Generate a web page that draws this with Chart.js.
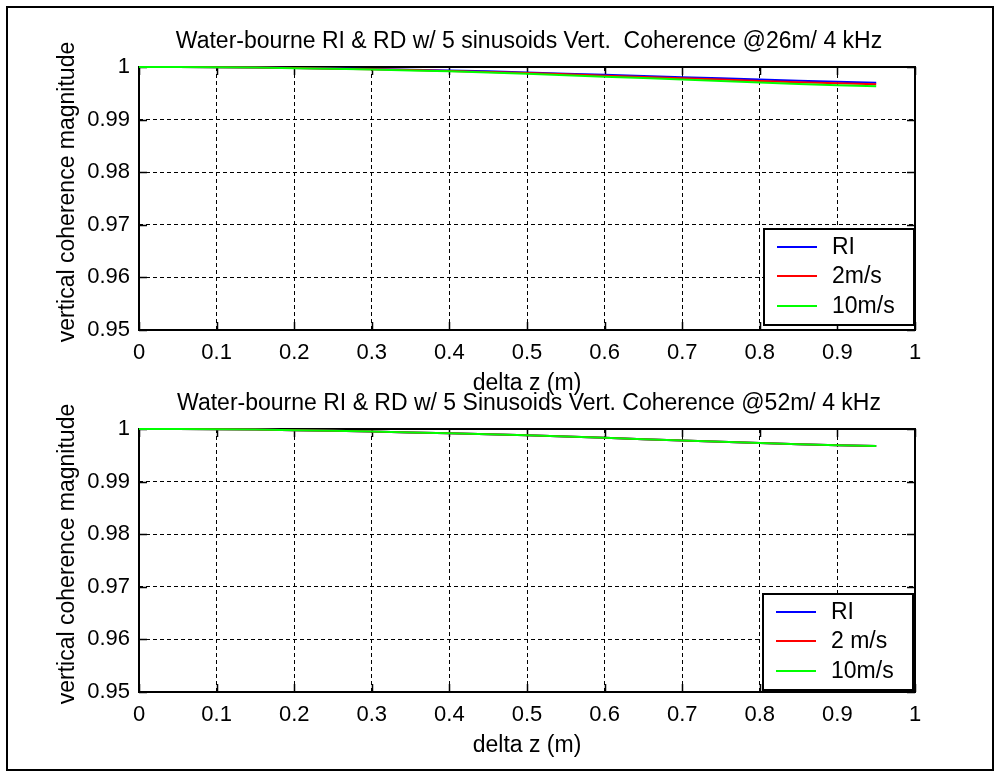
<!DOCTYPE html>
<html><head><meta charset="utf-8">
<script src="https://cdn.jsdelivr.net/npm/chart.js@4/dist/chart.umd.min.js"></script>
<style>
html,body{margin:0;padding:0;background:#fff;width:999px;height:776px;overflow:hidden;}
#frame{position:absolute;left:6px;top:6px;width:984px;height:761px;border:2px solid #000;}
canvas{position:absolute;left:0;}
#c1{top:0;}
#c2{top:362px;}
</style></head><body>
<div id="frame"></div>
<canvas id="c1" width="999" height="400" style="width:999px;height:400px"></canvas>
<canvas id="c2" width="999" height="400" style="width:999px;height:400px"></canvas>
<script>
// ---- data ----
const deltaZ = [0, 0.05, 0.1, 0.15, 0.2, 0.25, 0.3, 0.35, 0.4, 0.45, 0.5, 0.55, 0.6, 0.65, 0.7, 0.75, 0.8, 0.85, 0.9, 0.95];

const top_RI   = [1, 1, 0.99997, 0.99991, 0.99981, 0.99972, 0.9996, 0.99947, 0.99934, 0.99917, 0.99897, 0.99874, 0.99852, 0.99831, 0.99806, 0.99785, 0.99761, 0.9974, 0.9972, 0.99702];
const top_2ms  = [1, 1, 0.99996, 0.9999, 0.99979, 0.99969, 0.99956, 0.99941, 0.99926, 0.99907, 0.99886, 0.9986, 0.99835, 0.99812, 0.99784, 0.99761, 0.99734, 0.99711, 0.99689, 0.99671];
const top_10ms = [1, 1, 0.99996, 0.99989, 0.99977, 0.99966, 0.99951, 0.99935, 0.99918, 0.99897, 0.99873, 0.99844, 0.99817, 0.99791, 0.9976, 0.99734, 0.99705, 0.99679, 0.99654, 0.99633];

const bot_RI   = [1, 1, 0.99996, 0.99989, 0.99977, 0.99966, 0.99951, 0.99935, 0.99918, 0.99901, 0.9988, 0.99857, 0.99833, 0.99806, 0.99781, 0.99757, 0.99734, 0.99711, 0.99692, 0.99677];
const bot_2ms  = [1, 1, 0.99996, 0.99989, 0.99977, 0.99966, 0.99951, 0.99935, 0.99918, 0.99901, 0.9988, 0.99857, 0.99833, 0.99806, 0.99781, 0.99757, 0.99734, 0.99711, 0.99692, 0.99677];
const bot_10ms = [1, 1, 0.99996, 0.99989, 0.99977, 0.99966, 0.99951, 0.99935, 0.99918, 0.99901, 0.9988, 0.99857, 0.99833, 0.99806, 0.99781, 0.99757, 0.99734, 0.99711, 0.99692, 0.99677];

const xTickValues = [0, 0.1, 0.2, 0.3, 0.4, 0.5, 0.6, 0.7, 0.8, 0.9, 1];
const xTickLabels = ['0', '0.1', '0.2', '0.3', '0.4', '0.5', '0.6', '0.7', '0.8', '0.9', '1'];
const yTickValues = [0.95, 0.96, 0.97, 0.98, 0.99, 1];
const yTickLabels = ['0.95', '0.96', '0.97', '0.98', '0.99', '1'];

const topTitle = 'Water-bourne RI & RD w/ 5 sinusoids Vert.  Coherence @26m/ 4 kHz';
const botTitle = 'Water-bourne RI & RD w/ 5 Sinusoids Vert. Coherence @52m/ 4 kHz';
const xLabel = 'delta z (m)';
const yLabel = 'vertical coherence magnitude';
const topLegend = ['RI', '2m/s', '10m/s'];
const botLegend = ['RI', '2 m/s', '10m/s'];
const seriesColors = ['#0000ff', '#ff0000', '#00ff00'];

// ---- rendering ----
const FONT = "'Liberation Sans', Arial, sans-serif";
const FS = 23;
const TFS = 22;

function decorPlugin(title, legendLabels, legendBox) {
  return {
    id: 'decor',
    beforeDatasetsDraw(chart) {
      const {ctx, chartArea: a, scales: {x, y}} = chart;
      ctx.save();
      ctx.setLineDash([]);
      ctx.strokeStyle = '#000';
      ctx.lineWidth = 1.5;
      ctx.beginPath();
      x.ticks.forEach(t => {
        const px = Math.round(x.getPixelForValue(t.value)) + 0.5;
        ctx.moveTo(px, a.bottom); ctx.lineTo(px, a.bottom - 8);
        ctx.moveTo(px, a.top); ctx.lineTo(px, a.top + 8);
      });
      y.ticks.forEach(t => {
        const py = Math.round(y.getPixelForValue(t.value)) + 0.5;
        ctx.moveTo(a.left, py); ctx.lineTo(a.left + 8, py);
        ctx.moveTo(a.right, py); ctx.lineTo(a.right - 8, py);
      });
      ctx.stroke();
      ctx.lineWidth = 2;
      ctx.strokeRect(a.left, a.top, a.right - a.left, a.bottom - a.top);
      ctx.restore();
    },
    afterDraw(chart) {
      const {ctx, chartArea: a} = chart;
      ctx.save();
      ctx.fillStyle = '#000';
      ctx.font = FS + 'px ' + FONT;
      // title
      ctx.textAlign = 'center';
      ctx.textBaseline = 'alphabetic';
      ctx.fillText(title, (a.left + a.right) / 2 + 2, 48);
      // x label
      ctx.textBaseline = 'middle';
      ctx.fillText(xLabel, (a.left + a.right) / 2, 384);
      // y label
      ctx.save();
      ctx.translate(68, 192);
      ctx.rotate(-Math.PI / 2);
      ctx.fillText(yLabel, 0, 0);
      ctx.restore();
      // legend
      const b = legendBox;
      ctx.fillStyle = '#fff';
      ctx.fillRect(b.x, b.y, b.w, b.h);
      ctx.strokeStyle = '#000';
      ctx.lineWidth = 2;
      ctx.strokeRect(b.x, b.y, b.w, b.h);
      const rows = [18, 47, 77];
      ctx.textAlign = 'left';
      ctx.textBaseline = 'middle';
      legendLabels.forEach((lab, i) => {
        const yy = b.y + rows[i];
        ctx.strokeStyle = seriesColors[i];
        ctx.lineWidth = 2;
        ctx.beginPath();
        ctx.moveTo(b.x + 13, yy); ctx.lineTo(b.x + 53, yy);
        ctx.stroke();
        ctx.fillStyle = '#000';
        ctx.fillText(lab, b.x + 68, yy + 1);
      });
      ctx.restore();
    }
  };
}

function makeChart(id, series, title, legendLabels, legendBox) {
  const datasets = series.map((vals, i) => ({
    label: legendLabels[i],
    data: deltaZ.map((z, k) => ({x: z, y: vals[k]})),
    borderColor: seriesColors[i],
    backgroundColor: seriesColors[i],
    borderWidth: 2,
    pointRadius: 0,
    tension: 0,
    fill: false,
    clip: false,
    order: 2 - i
  }));
  return new Chart(document.getElementById(id), {
    type: 'line',
    data: {datasets},
    options: {
      responsive: false,
      animation: false,
      devicePixelRatio: 1,
      layout: {padding: {left: 0, top: 67, right: 84, bottom: 0}},
      plugins: {legend: {display: false}, title: {display: false}, tooltip: {enabled: false}},
      scales: {
        x: {
          type: 'linear', min: 0, max: 1,
          afterBuildTicks: s => { s.ticks = xTickValues.map(v => ({value: v})); },
          afterFit: s => { s.height = 70; },
          ticks: {callback: (v, i) => xTickLabels[i], color: '#000', font: {family: FONT, size: TFS}, padding: 10, maxRotation: 0, autoSkip: false},
          grid: {color: '#000', lineWidth: 1, drawTicks: false},
          border: {display: false, dash: [4, 3]}
        },
        y: {
          type: 'linear', min: 0.95, max: 1,
          afterBuildTicks: s => { s.ticks = yTickValues.map(v => ({value: v})); },
          afterFit: s => { s.width = 139; },
          ticks: {callback: (v, i) => yTickLabels[i], color: '#000', font: {family: FONT, size: TFS}, padding: 9, autoSkip: false},
          grid: {color: '#000', lineWidth: 1, drawTicks: false},
          border: {display: false, dash: [4, 3]}
        }
      }
    },
    plugins: [decorPlugin(title, legendLabels, legendBox)]
  });
}

makeChart('c1', [top_RI, top_2ms, top_10ms], topTitle, topLegend, {x: 764, y: 229, w: 150, h: 96});
makeChart('c2', [bot_RI, bot_2ms, bot_10ms], botTitle, botLegend, {x: 763, y: 232, w: 150, h: 96});
</script>
</body></html>
